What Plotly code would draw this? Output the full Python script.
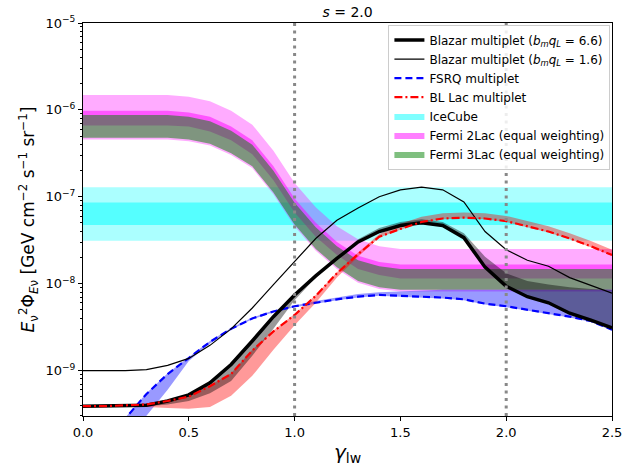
import plotly.graph_objects as go

# ---------------- data (log10 of E^2 Phi) ----------------
gamma = [0.0, 0.1, 0.2, 0.3, 0.4, 0.5, 0.6, 0.7, 0.8, 0.9, 1.0, 1.1, 1.2,
         1.3, 1.4, 1.5, 1.6, 1.7, 1.8, 1.9, 2.0, 2.1, 2.2, 2.3, 2.4, 2.5]

blazar_66 = [-9.41, -9.41, -9.41, -9.40, -9.35, -9.28, -9.14, -8.93, -8.66, -8.38, -8.13, -7.91, -7.71,
             -7.52, -7.40, -7.33, -7.30, -7.33, -7.47, -7.81, -8.03, -8.15, -8.22, -8.34, -8.42, -8.51]
blazar_66_lo = [-9.42, -9.42, -9.42, -9.41, -9.39, -9.35, -9.26, -9.12, -8.83, -8.52, -8.19, -7.93, -7.72,
                -7.53, -7.41, -7.34, -7.31, -7.34, -7.48, -7.82, -8.04, -8.16, -8.23, -8.35, -8.43, -8.52]
blazar_66_hi = [-9.40, -9.40, -9.40, -9.39, -9.34, -9.27, -9.13, -8.92, -8.65, -8.37, -8.12, -7.90, -7.70,
                -7.49, -7.36, -7.29, -7.26, -7.29, -7.42, -7.69, -7.88, -7.97, -8.01, -8.04, -8.06, -8.07]

blazar_16 = [-9.00, -9.00, -9.00, -8.99, -8.94, -8.86, -8.71, -8.52, -8.28, -8.01, -7.75, -7.48, -7.27,
             -7.13, -7.00, -6.92, -6.89, -6.92, -7.06, -7.40, -7.61, -7.73, -7.80, -7.93, -8.02, -8.11]

fsrq = [-10.5, -10.0, -9.55, -9.27, -9.04, -8.85, -8.67, -8.52, -8.40, -8.32, -8.26, -8.22, -8.18,
        -8.15, -8.13, -8.14, -8.15, -8.16, -8.18, -8.23, -8.26, -8.30, -8.34, -8.38, -8.43, -8.53]
fsrq_lo = [-10.6, -10.3, -9.85, -9.52, -9.22, -8.89, -8.69, -8.53, -8.41, -8.33, -8.27, -8.23, -8.19,
           -8.16, -8.14, -8.15, -8.16, -8.17, -8.19, -8.24, -8.27, -8.31, -8.35, -8.39, -8.44, -8.54]
fsrq_hi = [-10.5, -10.0, -9.54, -9.26, -9.03, -8.84, -8.66, -8.51, -8.39, -8.31, -8.25, -8.20, -8.16,
           -8.12, -8.10, -8.09, -8.08, -8.07, -8.07, -8.07, -8.07, -8.07, -8.07, -8.07, -8.07, -8.07]

bllac = [-9.41, -9.41, -9.40, -9.39, -9.35, -9.30, -9.18, -9.04, -8.77, -8.55, -8.36, -8.14, -7.88,
         -7.66, -7.46, -7.37, -7.29, -7.25, -7.24, -7.25, -7.28, -7.34, -7.40, -7.48, -7.57, -7.67]
bllac_lo = [-9.42, -9.42, -9.42, -9.42, -9.43, -9.44, -9.42, -9.29, -9.06, -8.76, -8.48, -8.22, -7.93,
            -7.69, -7.47, -7.38, -7.30, -7.26, -7.25, -7.26, -7.29, -7.35, -7.41, -7.49, -7.58, -7.68]
bllac_hi = [-9.40, -9.40, -9.39, -9.38, -9.34, -9.29, -9.17, -9.03, -8.76, -8.54, -8.35, -8.13, -7.87,
            -7.64, -7.43, -7.31, -7.23, -7.19, -7.18, -7.19, -7.22, -7.28, -7.34, -7.42, -7.51, -7.61]

fermi2_out_lo = [-6.34, -6.34, -6.34, -6.34, -6.34, -6.36, -6.41, -6.52, -6.67, -6.97, -7.34, -7.62, -7.83,
                 -7.99, -8.06, -8.09, -8.09, -8.09, -8.09, -8.09, -8.09, -8.09, -8.09, -8.09, -8.09, -8.09]
fermi2_out_hi = [-5.83, -5.83, -5.83, -5.83, -5.83, -5.85, -5.90, -6.01, -6.17, -6.47, -6.84, -7.12, -7.34,
                 -7.49, -7.57, -7.60, -7.60, -7.60, -7.60, -7.60, -7.60, -7.60, -7.60, -7.60, -7.60, -7.60]
fermi2_in_lo = [-6.18, -6.18, -6.18, -6.18, -6.18, -6.19, -6.25, -6.35, -6.51, -6.81, -7.18, -7.46, -7.67,
                -7.83, -7.90, -7.94, -7.94, -7.94, -7.94, -7.94, -7.94, -7.94, -7.94, -7.94, -7.94, -7.94]
fermi2_in_hi = [-6.01, -6.01, -6.01, -6.01, -6.01, -6.03, -6.08, -6.19, -6.35, -6.65, -7.02, -7.30, -7.52,
                -7.68, -7.75, -7.78, -7.78, -7.78, -7.78, -7.78, -7.78, -7.78, -7.78, -7.78, -7.78, -7.78]
fermi3_lo = [-6.32, -6.32, -6.32, -6.32, -6.32, -6.34, -6.39, -6.50, -6.65, -6.95, -7.32, -7.60, -7.81,
             -7.97, -8.04, -8.07, -8.07, -8.07, -8.07, -8.07, -8.07, -8.07, -8.07, -8.07, -8.07, -8.07]
fermi3_hi = [-6.06, -6.06, -6.06, -6.06, -6.06, -6.08, -6.13, -6.24, -6.40, -6.70, -7.07, -7.35, -7.57,
             -7.73, -7.80, -7.83, -7.83, -7.83, -7.83, -7.83, -7.83, -7.83, -7.83, -7.83, -7.83, -7.83]

icecube_x = [0.0, 2.5]
icecube_out = [3.12e-8, 1.29e-7]
icecube_in = [4.72e-8, 8.6e-8]

vlines = [1.0, 2.0]
xticks = [0.0, 0.5, 1.0, 1.5, 2.0, 2.5]
yticks_exp = [-9, -8, -7, -6, -5]


def lin(vals):
    return [10 ** v for v in vals]


FONT = "DejaVu Sans"
fig = go.Figure()


def band(x, lo, hi, color, name=None, show=False, rank=None):
    fig.add_trace(go.Scatter(x=x, y=lo, mode="lines", line=dict(width=0, color=color),
                             showlegend=False, hoverinfo="skip"))
    fig.add_trace(go.Scatter(x=x, y=hi, mode="lines", line=dict(width=0, color=color),
                             fill="tonexty", fillcolor=color, name=name,
                             showlegend=show, legendrank=rank, hoverinfo="skip"))


# IceCube
band(icecube_x, [icecube_out[0]] * 2, [icecube_out[1]] * 2, "rgba(0,255,255,0.33)")
band(icecube_x, [icecube_in[0]] * 2, [icecube_in[1]] * 2, "rgba(0,255,255,0.5)",
     name="IceCube", show=True, rank=5)
# Fermi 2Lac
band(gamma, lin(fermi2_out_lo), lin(fermi2_out_hi), "rgba(255,0,255,0.33)")
band(gamma, lin(fermi2_in_lo), lin(fermi2_in_hi), "rgba(255,0,255,0.5)",
     name="Fermi 2Lac (equal weighting)", show=True, rank=6)
# Fermi 3Lac
band(gamma, lin(fermi3_lo), lin(fermi3_hi), "rgba(0,128,0,0.5)",
     name="Fermi 3Lac (equal weighting)", show=True, rank=7)
# model bands
band(gamma, lin(fsrq_lo), lin(fsrq_hi), "rgba(0,0,255,0.4)")
band(gamma, lin(bllac_lo), lin(bllac_hi), "rgba(255,0,0,0.4)")
band(gamma, lin(blazar_66_lo), lin(blazar_66_hi), "rgba(0,0,0,0.4)")

# lines
fig.add_trace(go.Scatter(x=gamma, y=lin(fsrq), mode="lines", name="FSRQ multiplet",
                         line=dict(color="#0000ff", width=2.2, dash="7px,4px"), legendrank=3))
fig.add_trace(go.Scatter(x=gamma, y=lin(blazar_16), mode="lines",
                         name="Blazar multiplet (<i>b<sub>m</sub>q<sub>L</sub></i> = 1.6)",
                         line=dict(color="black", width=1.2), legendrank=2))
fig.add_trace(go.Scatter(x=gamma, y=lin(blazar_66), mode="lines",
                         name="Blazar multiplet (<i>b<sub>m</sub>q<sub>L</sub></i> = 6.6)",
                         line=dict(color="black", width=3.5), legendrank=1))
fig.add_trace(go.Scatter(x=gamma, y=lin(bllac), mode="lines", name="BL Lac multiplet",
                         line=dict(color="#ff0000", width=2.2, dash="8px,3px,2px,3px"), legendrank=4))

for xv in vlines:
    fig.add_shape(type="line", xref="x", yref="paper", x0=xv, x1=xv, y0=0, y1=1,
                  line=dict(color="#888888", width=3, dash="3px,4.5px"), layer="above")

minor_vals = [k * 10.0 ** e for e in range(-10, -5) for k in range(2, 10)]

fig.update_layout(
    width=624, height=474,
    margin=dict(l=83, r=12, t=23, b=58),
    paper_bgcolor="white", plot_bgcolor="white",
    font=dict(family=FONT, color="black", size=13),
    title=dict(text="<i>s</i> = 2.0", x=0.557, xanchor="center", y=0.975, yanchor="middle",
               xref="container", font=dict(size=14, family=FONT)),
    showlegend=True,
    legend=dict(x=0.997, y=0.996, xanchor="right", yanchor="top", traceorder="normal",
                bgcolor="rgba(255,255,255,0.85)", bordercolor="#cccccc", borderwidth=1,
                font=dict(size=12, family=FONT), tracegroupgap=0, itemwidth=30),
    xaxis=dict(range=[0, 2.5], tickvals=xticks, ticktext=[f"{v:.1f}" for v in xticks],
               ticks="outside", ticklen=4, tickcolor="black", showline=True, linecolor="black",
               linewidth=1, mirror=True, showgrid=False, zeroline=False, automargin=False,
               tickfont=dict(size=13),
               title=dict(text="<i>γ</i><sub>lw</sub>", font=dict(size=20), standoff=6)),
    yaxis=dict(type="log", range=[-9.523, -5], automargin=False,
               tickvals=[10.0 ** e for e in yticks_exp],
               ticktext=[f"10<sup>−{-e}</sup>" for e in yticks_exp],
               ticks="outside", ticklen=4, tickcolor="black", showline=True, linecolor="black",
               linewidth=1, mirror=True, showgrid=False, zeroline=False,
               tickfont=dict(size=13),
               minor=dict(tickvals=minor_vals, ticks="outside", ticklen=2, tickcolor="black",
                          showgrid=False),
               title=dict(text="<i>E</i><sub>ν</sub><sup>2</sup>Φ<sub><i>E</i>ν</sub> [GeV cm<sup>−2</sup> s<sup>−1</sup> sr<sup>−1</sup>]",
                          font=dict(size=17), standoff=6)),
)

fig.write_html("out.html", config={"displayModeBar": False},
               post_script="document.body.style.margin='0';document.body.style.padding='0';")
